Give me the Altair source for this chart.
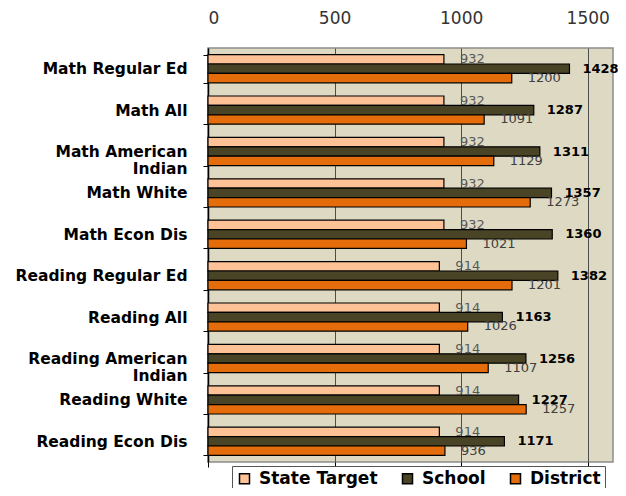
import altair as alt
import pandas as pd

categories = [
    "Math Regular Ed", "Math All", "Math American Indian", "Math White",
    "Math Econ Dis", "Reading Regular Ed", "Reading All",
    "Reading American Indian", "Reading White", "Reading Econ Dis",
]
series = ["State Target", "School", "District"]
state_target = [932, 932, 932, 932, 932, 914, 914, 914, 914, 914]
school = [1428, 1287, 1311, 1357, 1360, 1382, 1163, 1256, 1227, 1171]
district = [1200, 1091, 1129, 1273, 1021, 1201, 1026, 1107, 1257, 936]
tick_values = [0, 500, 1000, 1500]
colors = ["#FFC196", "#4A4426", "#E46C0A"]

rows = []
for i, c in enumerate(categories):
    for s, vals in zip(series, [state_target, school, district]):
        rows.append({"category": c, "series": s, "value": vals[i]})
df = pd.DataFrame(rows)

NB = "\u00a0"
label_map = {
    "Math American Indian": ["Math American", "Indian" + NB * 7],
    "Reading American Indian": ["Reading American", "Indian" + NB * 10],
}
expr = "datum.value"
for k, v in label_map.items():
    expr = f"datum.value == '{k}' ? ['{v[0]}', '{v[1]}'] : " + expr

x_scale = alt.Scale(domain=[0, 1600], nice=False)
y_scale = alt.Scale(domain=categories, paddingInner=0.32, paddingOuter=0.16)
yoff_scale = alt.Scale(domain=series, paddingInner=0, paddingOuter=0)

base = alt.Chart(df)

bars = base.mark_bar(stroke="black", strokeWidth=1.2).encode(
    x=alt.X("value:Q", scale=x_scale, axis=alt.Axis(
        orient="top", values=tick_values, format="d", ticks=False,
        domain=False, grid=True, gridColor="#4d4d4d", gridWidth=1,
        labelFont="DejaVu Sans", labelFontSize=17, labelColor="#333333",
        labelPadding=21, title=None)),
    y=alt.Y("category:N", scale=y_scale, sort=categories, axis=alt.Axis(
        title=None, tickBand="extent", tickSize=5, tickColor="black",
        domainColor="black", domainWidth=1.5,
        labelFont="DejaVu Sans", labelFontWeight="bold", labelFontSize=15.5,
        labelColor="black", labelPadding=16, labelLineHeight=17,
        labelExpr=expr, labelLimit=300)),
    yOffset=alt.YOffset("series:N", scale=yoff_scale, sort=series),
    color=alt.Color("series:N", scale=alt.Scale(domain=series, range=colors),
                    legend=alt.Legend(
                        title=None, orient="none", legendX=24, legendY=418,
                        direction="horizontal", columns=3,
                        symbolType="square", symbolSize=100,
                        symbolStrokeColor="black", symbolStrokeWidth=1.5,
                        labelFont="DejaVu Sans", labelFontWeight="bold",
                        labelFontSize=17, labelColor="black", labelOffset=6,
                        columnPadding=21, padding=4,
                        strokeColor="#555555", fillColor="white")),
)


def labels(s, dx, x_axis=None, **kw):
    return base.transform_filter(alt.datum.series == s).mark_text(
        align="left", baseline="middle", dx=dx, **kw
    ).encode(
        x=alt.X("value:Q", scale=x_scale, axis=x_axis),
        y=alt.Y("category:N", scale=y_scale, sort=categories, axis=None),
        yOffset=alt.YOffset("series:N", scale=yoff_scale, sort=series),
        text="value:Q",
    )


bottom_axis = alt.Axis(orient="bottom", values=tick_values, labels=False,
                       domain=False, ticks=True, tickSize=5, tickColor="black",
                       grid=False, title=None)

t_state = labels("State Target", 16, x_axis=bottom_axis, font="DejaVu Sans",
                 fontSize=13, color="#595959")
t_school = labels("School", 13, font="DejaVu Sans", fontSize=13,
                  fontWeight="bold", color="black")
t_district = labels("District", 16, font="DejaVu Sans", fontSize=13,
                    color="#404040")

chart = alt.layer(bars, t_state, t_school, t_district).resolve_axis(
    x="independent", y="independent"
).properties(
    width=405, height=414,
    autosize=alt.AutoSizeParams(type="none"),
    padding={"left": 200, "top": 40, "right": 5, "bottom": 26},
).configure_view(
    fill="#DDD9C3", stroke="#8c8c8c", strokeWidth=1.5
)

chart.save("out.html", embed_options={"renderer": "svg", "actions": False})
